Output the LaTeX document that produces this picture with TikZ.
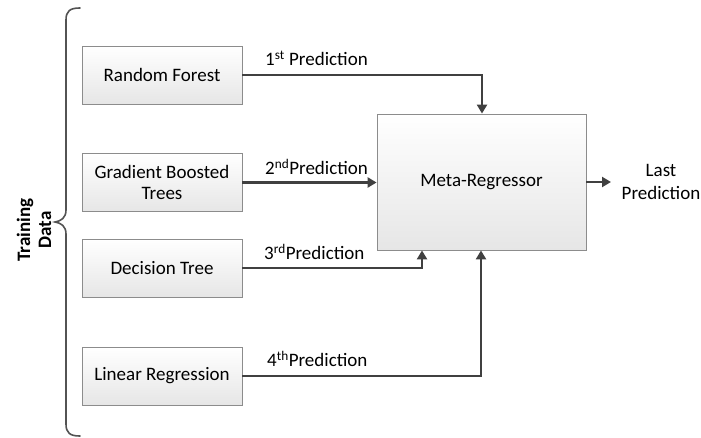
\documentclass[tikz,border=0pt]{standalone}
\usepackage{fontspec}
\setmainfont{Carlito}
\usetikzlibrary{arrows.meta,positioning}
\definecolor{boxedge}{HTML}{8C8C8C}
\definecolor{boxlow}{HTML}{E6E6E6}
\definecolor{flow}{HTML}{404040}
\begin{document}
\begin{tikzpicture}[x=1pt,y=-1pt,
  model/.style={draw=boxedge,line width=0.8pt,top color=white,bottom color=boxlow,
    minimum width=160pt,minimum height=58pt,align=center,inner sep=0pt,
    font=\fontsize{19}{21.5}\selectfont},
  flowline/.style={draw=flow,line width=2.6pt,-{Triangle[length=9pt,width=10pt]}},
  lbl/.style={font=\fontsize{19}{21.5}\selectfont,inner sep=0pt}]
\useasboundingbox (0,0) rectangle (701,438);

% base models
\node[model] (rf)  at (162,75)  {Random Forest};
\node[model] (gbt) at (162,182.5) {Gradient Boosted\\Trees};
\node[model] (dt)  at (162,268) {Decision Tree};
\node[model] (lr)  at (162,376) {Linear Regression};

% meta learner
\node[model,minimum width=209pt,minimum height=136pt] (meta) at (481.5,182) {Meta-Regressor};

% connectors into the meta learner
\draw[flowline] (rf.east) -| (meta.north -| 482,0);
\draw[flowline] (gbt.east) -- (gbt.east -| meta.west);
\draw[flowline] (dt.east) -| (meta.south -| 422,0);
\draw[flowline] (lr.east) -| (meta.south -| 481,0);

% output
\coordinate (outend) at (611,182);
\draw[flowline] (meta.east) -- (outend);
\node[lbl,align=center] (last) at (661,182) {Last\\[1pt]Prediction};

% connector labels
\node[lbl,anchor=south west] (p1) at (265,66) {1\textsuperscript{st} Prediction};
\node[lbl,anchor=south west] (p2) at (265,175) {2\textsuperscript{nd}Prediction};
\node[lbl,anchor=south west] (p3) at (264,260) {3\textsuperscript{rd}Prediction};
\node[lbl,anchor=south west] (p4) at (267,367) {4\textsuperscript{th}Prediction};

% brace around the training data
\draw[flow!90,line width=1.6pt,line cap=round]
  (80,8) .. controls (70,8) and (66,11) .. (66,20)
  -- (66,210) .. controls (66,218) and (61,221) .. (55,222)
  .. controls (61,223) and (66,226) .. (66,234)
  -- (66,424) .. controls (66,433) and (70,436) .. (80,436);
\node[lbl,rotate=90,align=center,font=\fontsize{19}{21}\bfseries\selectfont] (td) at (34,230) {Training\\Data};
\end{tikzpicture}
\end{document}
